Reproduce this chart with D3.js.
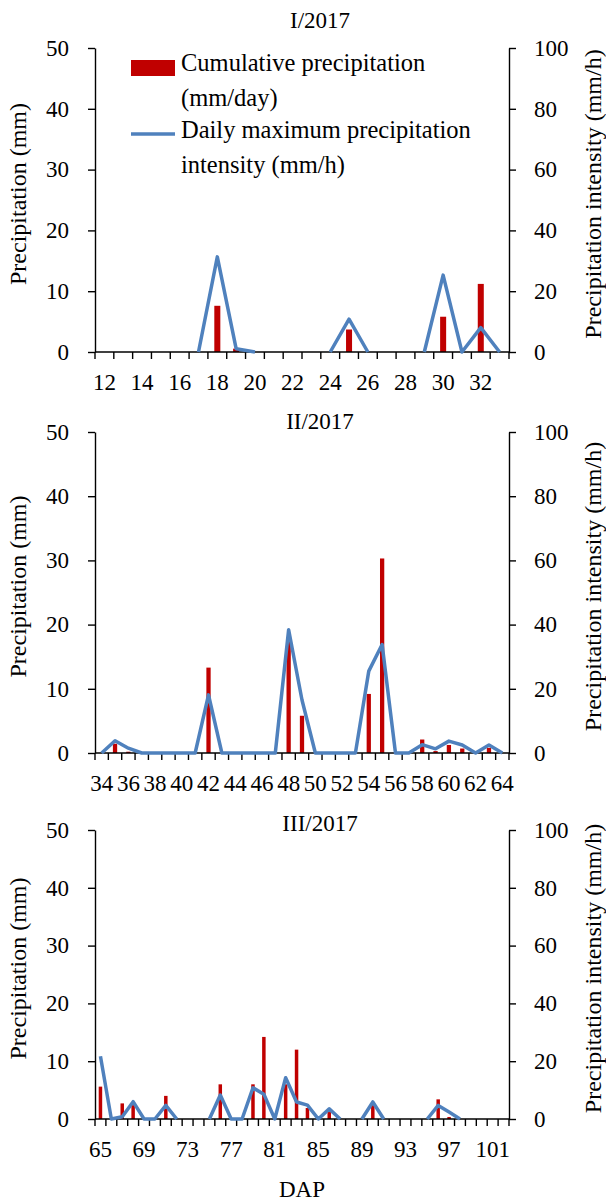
<!DOCTYPE html>
<html>
<head>
<meta charset="utf-8">
<script src="https://cdnjs.cloudflare.com/ajax/libs/d3/7.8.5/d3.min.js"></script>
<style>
body { margin: 0; background: #fff; }
text { font-family: "Liberation Serif", "Times New Roman", serif; fill: #000; }
</style>
</head>
<body>
<script>
// days after planting (DAP) for each month
var days1 = [12,13,14,15,16,17,18,19,20,21,22,23,24,25,26,27,28,29,30,31,32,33];
var days2 = [34,35,36,37,38,39,40,41,42,43,44,45,46,47,48,49,50,51,52,53,54,55,56,57,58,59,60,61,62,63,64];
var days3 = [65,66,67,68,69,70,71,72,73,74,75,76,77,78,79,80,81,82,83,84,85,86,87,88,89,90,91,92,93,94,95,96,97,98,99,100,101,102];

// cumulative precipitation (mm/day)
var rain1 = [0,0,0,0,0,0,7.6,0.55,0,0,0,0,0,3.7,0,0,0,0,5.8,0,11.2,0];
var rain2 = [0,1.45,0.2,0,0,0,0,0,13.3,0,0,0,0,0,17.5,5.8,0,0,0,0,9.2,30.3,0,0,2.1,0.3,1.25,0.7,0,0.8,0];
var rain3 = [5.6,0,2.7,2.4,0,0,4.0,0,0,0,0,6.0,0,0,6.0,14.2,0,6.0,12.0,1.9,0,1.2,0,0,0,2.4,0,0,0,0,0,3.4,0.35,0,0,0,0,0];

// daily maximum precipitation intensity (mm/h), null = no record
var inten1 = [null,null,null,null,null,0,31.3,1.1,0,null,null,null,0,10.8,0,null,null,0,25.3,0,8.0,0];
var inten2 = [0,3.8,1.5,0,0,0,0,0,18.1,0,0,0,0,0,38.4,16.5,0,0,0,0,25.5,33.8,0,0,2.6,1.3,3.7,2.5,0,2.5,0];
var inten3 = [21.7,0,0.8,6.0,0,0,4.7,0,null,null,0,8.3,0,0,10.8,8.6,0,14.3,5.9,4.8,0,3.5,0,null,0,5.9,0,null,null,null,0,4.7,2.4,0,null,null,null,null];

// x tick labels
var ticks1 = [12,14,16,18,20,22,24,26,28,30,32];
var ticks2 = [34,36,38,40,42,44,46,48,50,52,54,56,58,60,62,64];
var ticks3 = [65,69,73,77,81,85,89,93,97,101];

var leftTicks = [0,10,20,30,40,50];
var rightTicks = [0,20,40,60,80,100];

var titles = ["I/2017", "II/2017", "III/2017"];

var w = 606;
var h = 1203;
var x0 = 95;
var x1 = 509;
var barColor = "#C00000";
var lineColor = "#4F81BD";

var svg = d3.select("body")
			.append("svg")
			.attr("width", w)
			.attr("height", h);

var panels = [
	{ days: days1, rain: rain1, inten: inten1, ticks: ticks1, title: titles[0], top: 48, bottom: 352, titleY: 28 },
	{ days: days2, rain: rain2, inten: inten2, ticks: ticks2, title: titles[1], top: 432, bottom: 753, titleY: 429 },
	{ days: days3, rain: rain3, inten: inten3, ticks: ticks3, title: titles[2], top: 830, bottom: 1119, titleY: 831 }
];

for (var i = 0; i < panels.length; i++) {
	drawPanel(panels[i]);
}

function drawPanel(p) {
	var x = d3.scaleBand().domain(p.days).range([x0, x1]);
	var yL = d3.scaleLinear().domain([0, 50]).range([p.bottom, p.top]);
	var yR = d3.scaleLinear().domain([0, 100]).range([p.bottom, p.top]);
	var bw = x.bandwidth();
	var barW = bw * 0.32;
	var g = svg.append("g");

	// bars
	g.selectAll("rect.bar")
	 .data(p.days)
	 .enter()
	 .filter(function(d, i) { return p.rain[i] > 0; })
	 .append("rect")
	 .attr("class", "bar")
	 .attr("x", function(d) { return x(d) + (bw - barW) / 2; })
	 .attr("y", function(d) { return yL(p.rain[p.days.indexOf(d)]); })
	 .attr("width", barW)
	 .attr("height", function(d) { return p.bottom - yL(p.rain[p.days.indexOf(d)]); })
	 .attr("fill", barColor);

	// x axis: boundary ticks + labels
	g.append("line")
	 .attr("x1", x0).attr("x2", x1)
	 .attr("y1", p.bottom).attr("y2", p.bottom)
	 .attr("stroke", "#000").attr("stroke-width", 1.4);
	var edges = p.days.map(function(d) { return x(d); }).concat([x1]);
	g.selectAll("line.xt")
	 .data(edges)
	 .enter()
	 .append("line")
	 .attr("class", "xt")
	 .attr("x1", function(d) { return d; })
	 .attr("x2", function(d) { return d; })
	 .attr("y1", p.bottom)
	 .attr("y2", p.bottom + 7)
	 .attr("stroke", "#000")
	 .attr("stroke-width", 1.4);
	g.selectAll("text.xl")
	 .data(p.ticks)
	 .enter()
	 .append("text")
	 .attr("class", "xl")
	 .attr("x", function(d) { return x(d) + bw / 2; })
	 .attr("y", p.bottom + 38)
	 .attr("text-anchor", "middle")
	 .attr("font-size", "23px")
	 .text(function(d) { return d; });

	// y axes
	var axL = g.append("g")
			   .attr("transform", "translate(" + x0 + ",0)")
			   .call(d3.axisLeft(yL).tickValues(leftTicks).tickSize(7).tickSizeOuter(0).tickPadding(19));
	var axR = g.append("g")
			   .attr("transform", "translate(" + x1 + ",0)")
			   .call(d3.axisRight(yR).tickValues(rightTicks).tickSize(7).tickSizeOuter(0).tickPadding(18));
	[axL, axR].forEach(function(ax) {
		ax.selectAll("path, line").attr("stroke", "#000").attr("stroke-width", 1.4);
		ax.selectAll("text")
		  .attr("font-family", "Liberation Serif, Times New Roman, serif")
		  .attr("font-size", "23px")
		  .attr("fill", "#000");
	});

	// line
	var line = d3.line()
				 .defined(function(d) { return d !== null; })
				 .x(function(d, i) { return x(p.days[i]) + bw / 2; })
				 .y(function(d) { return yR(d); });
	g.append("path")
	 .datum(p.inten)
	 .attr("d", line)
	 .attr("fill", "none")
	 .attr("stroke", lineColor)
	 .attr("stroke-width", 3.5)
	 .attr("stroke-linejoin", "round");

	// titles
	g.append("text")
	 .attr("x", 320)
	 .attr("y", p.titleY)
	 .attr("text-anchor", "middle")
	 .attr("font-size", "23px")
	 .text(p.title);
	var cy = (p.top + p.bottom) / 2;
	g.append("text")
	 .attr("transform", "translate(18," + (cy - 6) + ") rotate(-90)")
	 .attr("dy", "0.35em")
	 .attr("text-anchor", "middle")
	 .attr("font-size", "24px")
	 .text("Precipitation (mm)");
	g.append("text")
	 .attr("transform", "translate(593," + (cy - 6) + ") rotate(-90)")
	 .attr("dy", "0.35em")
	 .attr("text-anchor", "middle")
	 .attr("font-size", "24px")
	 .text("Precipitation intensity (mm/h)");
}

// legend (first panel only)
var lg = svg.append("g");
lg.append("rect")
  .attr("x", 131).attr("y", 60)
  .attr("width", 44).attr("height", 16)
  .attr("fill", barColor);
lg.append("line")
  .attr("x1", 131).attr("x2", 175)
  .attr("y1", 134).attr("y2", 134)
  .attr("stroke", lineColor)
  .attr("stroke-width", 3.5);
var legendLines = ["Cumulative precipitation", "(mm/day)", "Daily maximum precipitation", "intensity (mm/h)"];
var legendY = [71, 106, 138, 173];
lg.selectAll("text")
  .data(legendLines)
  .enter()
  .append("text")
  .attr("x", 181)
  .attr("y", function(d, i) { return legendY[i]; })
  .attr("font-size", "24.5px")
  .text(function(d) { return d; });

// x axis title
svg.append("text")
   .attr("x", 302)
   .attr("y", 1197)
   .attr("text-anchor", "middle")
   .attr("font-size", "23px")
   .text("DAP");
</script>
</body>
</html>
